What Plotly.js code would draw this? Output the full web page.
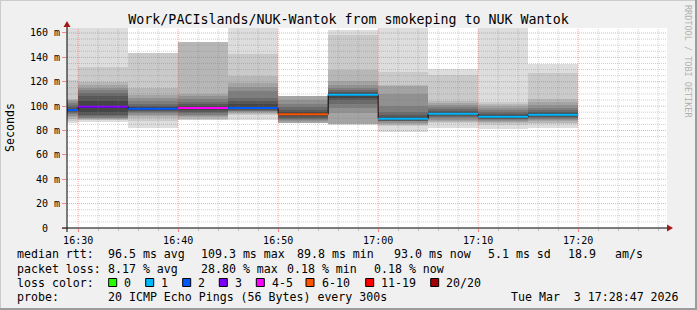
<!DOCTYPE html>
<html><head><meta charset="utf-8">
<script src="https://cdn.plot.ly/plotly-3.0.1.min.js"></script>
<style>html,body{margin:0;padding:0;background:#f0f0f0;overflow:hidden}</style>
</head><body><div id="chart" style="width:697px;height:310px"></div>
<script>
// ---------- data ----------
const day = '2026-03-03';
const binStarts = ['16:25','16:30','16:35','16:40','16:45','16:50','16:55','17:00','17:05','17:10','17:15'];
const binMinutes = 5;
const medians = [96.8, 99.5, 97.9, 98.4, 98.4, 93.3, 109.3, 89.7, 93.8, 91.3, 93.0];
const lossClass = [2, 3, 2, 4, 2, 5, 1, 1, 1, 1, 1];
const lossLabels = ['0','1','2','3','4-5','6-10','11-19','20/20'];
const lossColors = ['#26ff00','#00b8ff','#0059ff','#7e00ff','#ff00ff','#ff5500','#ff0000','#a10000'];
// 20 sorted ping times (ms) per 5-minute bin
const pings = [
  [86, 88, 89.5, 91, 92, 93.5, 94.5, 95.5, 96, 96.5, 97, 98, 99.5, 101, 102.5, 104, 105, 106, 121.7, 164],
  [87, 88.5, 89, 89.5, 90, 90.5, 91.5, 93, 95, 98.5, 100.5, 104, 108, 111, 113, 115, 117, 119.8, 131.8, 164],
  [82, 88, 90, 91.6, 93, 94, 95, 96, 97, 97.8, 98.6, 99.3, 100.5, 102, 104.5, 107, 109.4, 114.8, 143.6, 143.6],
  [88.9, 89, 89.5, 91, 92, 93, 94, 95, 96.5, 97.8, 99, 100, 101.5, 103.4, 106, 108, 110.2, 152.5, 152.5, 152.5],
  [89, 92.4, 93.5, 94.3, 95, 95.6, 96.2, 96.8, 97.3, 97.8, 99, 102, 104.5, 106.6, 112, 116, 119, 125, 142.7, 164],
  [86, 86, 86, 86.5, 87.5, 88.5, 89.5, 90.5, 91.5, 92.7, 94, 95.5, 97, 99, 102, 105.3, 108, 108, 108, 108],
  [84.6, 85, 85.2, 85.5, 94.3, 98.4, 102, 105.3, 107, 108.8, 109.8, 110.5, 111.5, 113, 115, 117.6, 120.3, 129.9, 158.6, 162.7],
  [78.5, 83.4, 84.5, 85.5, 86.5, 87.5, 87.8, 88.2, 88.7, 89.2, 90.2, 91, 92.5, 95, 100.3, 110, 116.5, 117.6, 128, 164],
  [82, 86.1, 87, 88, 89, 90.2, 91, 91.8, 92.6, 93.3, 94.2, 95, 96, 97.5, 99, 100.6, 102.5, 104.5, 125.8, 130.4],
  [81.5, 84.2, 86, 87, 88, 88.7, 89.3, 89.8, 90.3, 90.8, 91.8, 92.5, 93.5, 95, 96.5, 98.4, 100.5, 102, 103.4, 164],
  [82, 85.5, 86.5, 87.5, 88.5, 89.7, 90.3, 91, 91.8, 92.5, 93.5, 94.2, 95.3, 96.8, 98.5, 100.6, 103, 105.8, 127.1, 134.5]
];
const yTicks = [0, 20, 40, 60, 80, 100, 120, 140, 160];
const yTickText = ['0\u00a0\u00a0', '20 m', '40 m', '60 m', '80 m', '100 m', '120 m', '140 m', '160 m'];

// ---------- helpers ----------
const FONT = 'DejaVu Sans Mono';
const L = 67, T = 28, W = 600, H = 200;
const px = v => (v - L) / W;
const py = v => (T + H - v) / H;
function pad(n){ return (n < 10 ? '0' : '') + n; }
function ts(sec){ const h = Math.floor(sec/3600), m = Math.floor((sec%3600)/60), s = sec%60; return day + ' ' + pad(h) + ':' + pad(m) + ':' + pad(s); }
function hm(str){ const a = str.split(':'); return (+a[0])*3600 + (+a[1])*60; }

const startSec = binStarts.map(hm);
const step = binMinutes*60;
const rangeStart = hm('16:28') + 53, rangeEnd = rangeStart + 3600;

// ---------- traces ----------
const traces = [];
const nLayers = 10;
for (let i = 1; i <= nLayers; i++) {
  const shade = Math.floor(190 / nLayers * (nLayers - i)) + 50;
  traces.push({
    type: 'bar',
    x: startSec.map(s => ts(s + step/2)),
    base: pings.map(p => p[i-1]),
    y: pings.map(p => p[p.length - i] - p[i-1]),
    width: step*1000,
    marker: {color: `rgb(${shade},${shade},${shade})`, line: {width: 0}},
    hoverinfo: 'skip', showlegend: false
  });
}
// black step line
traces.push({
  type: 'scatter', mode: 'lines',
  x: startSec.map(s => ts(s)).concat([ts(startSec[startSec.length-1] + step)]),
  y: medians.concat([medians[medians.length-1]]),
  line: {shape: 'hv', color: '#000000', width: 1},
  hoverinfo: 'skip', showlegend: false
});
// coloured median per bin
startSec.forEach((s, k) => {
  traces.push({
    type: 'scatter', mode: 'lines',
    x: [ts(s), ts(s + step)], y: [medians[k], medians[k]],
    line: {color: lossColors[lossClass[k]], width: 2},
    hoverinfo: 'skip', showlegend: false
  });
});

// ---------- shapes ----------
const shapes = [];
const majorRed = 'rgba(255,60,60,0.45)', minorGray = 'rgba(120,120,120,0.35)';
for (let v = 5; v <= 160; v += 5) {
  shapes.push({type:'line', xref:'paper', yref:'y', x0:0, x1:1, y0:v, y1:v, layer:'above',
    line:{color: v % 20 === 0 ? majorRed : minorGray, width:1, dash:'1px,1px'}});
}
for (let s = hm('16:30'); s < rangeEnd; s += 120) {
  const major = (s/60) % 10 === 0;
  shapes.push({type:'line', xref:'x', yref:'paper', x0:ts(s), x1:ts(s), y0:0, y1:1, layer:'above',
    line:{color: major ? majorRed : minorGray, width:1, dash:'1px,1px'}});
}
// axes with arrows
shapes.push({type:'line', xref:'paper', yref:'paper', x0:px(62), x1:px(668), y0:py(228), y1:py(228), line:{color:'#000', width:1}, layer:'above'});
shapes.push({type:'line', xref:'paper', yref:'paper', x0:px(67), x1:px(67), y0:py(232), y1:py(26), line:{color:'#000', width:1}, layer:'above'});
shapes.push({type:'path', xref:'paper', yref:'paper', layer:'above',
  path:`M ${px(667)} ${py(224.5)} L ${px(673)} ${py(228)} L ${px(667)} ${py(231.5)} Z`, fillcolor:'#a01818', line:{width:0}});
shapes.push({type:'path', xref:'paper', yref:'paper', layer:'above',
  path:`M ${px(63.5)} ${py(27)} L ${px(67)} ${py(21)} L ${px(70.5)} ${py(27)} Z`, fillcolor:'#a01818', line:{width:0}});
// frame
shapes.push({type:'rect', xref:'paper', yref:'paper', x0:px(695), x1:px(698), y0:py(0), y1:py(311), fillcolor:'#9c9c9c', line:{width:0}});
shapes.push({type:'rect', xref:'paper', yref:'paper', x0:px(-1), x1:px(698), y0:py(308), y1:py(311), fillcolor:'#9c9c9c', line:{width:0}});
shapes.push({type:'rect', xref:'paper', yref:'paper', x0:px(-1), x1:px(1), y0:py(-1), y1:py(308), fillcolor:'#cbcbcb', line:{width:0}});
shapes.push({type:'rect', xref:'paper', yref:'paper', x0:px(-1), x1:px(695), y0:py(-1), y1:py(1), fillcolor:'#cbcbcb', line:{width:0}});

// ---------- annotations ----------
const ann = [];
function txt(x, y, text, opts) {
  ann.push(Object.assign({xref:'paper', yref:'paper', x:px(x), y:py(y), text:text, showarrow:false,
    xanchor:'left', yanchor:'middle', borderpad:0, font:{family:FONT, size:11.6, color:'#000'}}, opts||{}));
}
const nb = s => s.replace(/ /g, '\u00a0');
txt(16, 254, 'median rtt:'); txt(107.3, 254, nb('96.5 ms avg')); txt(200, 254, nb('109.3 ms max'));
txt(296, 254, nb('89.8 ms min')); txt(393.3, 254, nb('93.0 ms now')); txt(486.7, 254, nb('5.1 ms sd'));
txt(566.7, 254, '18.9'); txt(614.3, 254, 'am/s');
txt(16, 268.5, nb('packet loss:')); txt(107.3, 268.5, nb('8.17 % avg')); txt(200, 268.5, nb('28.80 % max'));
txt(286, 268.5, nb('0.18 % min')); txt(372.7, 268.5, nb('0.18 % now'));
txt(16, 282.5, nb('loss color:'));
const boxX = [108.7, 145.7, 182.7, 219.3, 256.3, 306, 365.7, 430.7];
lossLabels.forEach((lab, k) => {
  shapes.push({type:'rect', xref:'paper', yref:'paper', x0:px(boxX[k]), x1:px(boxX[k]+8), y0:py(278.5), y1:py(286.5),
    fillcolor: lossColors[k], line:{color:'#000', width:1}});
  txt(boxX[k] + 14.6, 282.5, lab);
});
txt(16, 296.5, 'probe:'); txt(107.3, 296.5, nb('20 ICMP Echo Pings (56 Bytes) every 300s'));
txt(680, 296.5, nb('Tue Mar  3 17:28:47 2026'), {xanchor:'right'});
txt(10, 128, 'Seconds', {xanchor:'center', textangle:-90});
txt(688, 61, nb('RRDTOOL / TOBI OETIKER'), {xanchor:'center', textangle:90, font:{family:FONT, size:8.5, color:'#b0b0b0'}});

const layout = {
  width: 697, height: 310,
  margin: {l: L, r: 697 - L - W, t: T, b: 310 - T - H, pad: 0},
  paper_bgcolor: '#f0f0f0', plot_bgcolor: '#ffffff',
  barmode: 'overlay', bargap: 0, showlegend: false,
  title: {text: 'Work/PACIslands/NUK-Wantok from smokeping to NUK Wantok',
    font: {family: FONT, size: 13.3, color: '#000'}, x: 0.5, xref: 'container', xanchor: 'center',
    y: 1 - 19/310, yref: 'container', yanchor: 'middle'},
  xaxis: {type: 'date', range: [ts(rangeStart), ts(rangeEnd)], showgrid: false, zeroline: false, showline: false,
    tick0: ts(hm('16:30')), dtick: 600000, tickformat: '%H:%M',
    ticks: 'outside', ticklen: 3, tickcolor: 'rgba(255,60,60,0.6)',
    minor: {dtick: 120000, ticks: 'outside', ticklen: 2, tickcolor: '#bbbbbb', showgrid: false},
    tickfont: {family: FONT, size: 10, color: '#000'}, fixedrange: true},
  yaxis: {range: [0, 200/1.2188], showgrid: false, zeroline: false, showline: false,
    tickmode: 'array', tickvals: yTicks, ticktext: yTickText,
    ticks: 'outside', ticklen: 4, tickcolor: 'rgba(255,60,60,0.6)',
    tickfont: {family: FONT, size: 10, color: '#000'}, fixedrange: true},
  shapes: shapes, annotations: ann
};
Plotly.newPlot('chart', traces, layout, {staticPlot: true, displayModeBar: false});
</script></body></html>
